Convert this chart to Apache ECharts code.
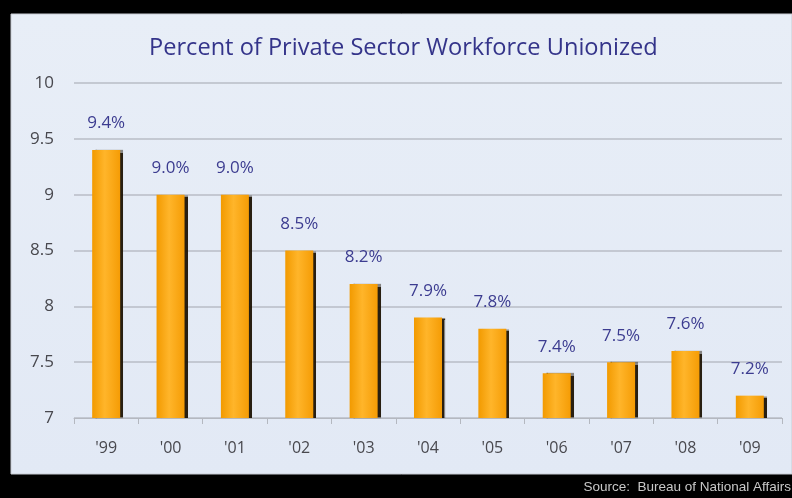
<!DOCTYPE html>
<html>
<head>
<meta charset="utf-8">
<script src="https://cdn.jsdelivr.net/npm/echarts@6/dist/echarts.min.js"></script>
<style>
html,body{margin:0;padding:0;background:#000;}
#c{width:792px;height:498px;}
</style>
</head>
<body>
<div id="c"></div>
<script>
var categories = ["'99","'00","'01","'02","'03","'04","'05","'06","'07","'08","'09"];
var values = [9.4, 9.0, 9.0, 8.5, 8.2, 7.9, 7.8, 7.4, 7.5, 7.6, 7.2];
var yTicks = {min: 7, max: 10, interval: 0.5};
var titleText = 'Percent of Private Sector Workforce Unionized';
var sourceText = 'Source:  Bureau of National Affairs';

var chart = echarts.init(document.getElementById('c'));
chart.setOption({
  backgroundColor: '#000',
  animation: false,
  graphic: [
    {type:'rect', z:-10, shape:{x:11, y:14, width:781, height:460},
     style:{fill:new echarts.graphic.LinearGradient(0,0,0,1,[{offset:0,color:'#e8eef7'},{offset:1,color:'#e2e9f5'}]), stroke:'#c8ccd4', lineWidth:1}},
    {type:'text', right:1, top:480, style:{text:sourceText, fill:'#c8c8c8', font:'13.5px "Liberation Sans", Arial, sans-serif'}}
  ],
  title: {
    text: titleText, left: 144, top: 31,
    textStyle: {color:'#34348a', fontSize:23.6, fontWeight:'normal', fontFamily:'"Open Sans", sans-serif'}
  },
  grid: {left:74, right:10, top:83, bottom:80, containLabel:false, outerBoundsMode:'none'},
  xAxis: {
    type:'category', data: categories,
    axisLine:{lineStyle:{color:'#b4b8c0', width:1}},
    axisTick:{show:true, alignWithLabel:false, length:6, lineStyle:{color:'#b4b8c0'}},
    axisLabel:{color:'#48484e', fontSize:16, margin:22, fontFamily:'"Open Sans", sans-serif'}
  },
  yAxis: {
    type:'value', min:yTicks.min, max:yTicks.max, interval:yTicks.interval,
    axisLine:{show:false}, axisTick:{show:false},
    splitLine:{lineStyle:{color:'#b8bcc6', width:1.5}},
    axisLabel:{color:'#48484e', fontSize:17, margin:20, fontFamily:'"Open Sans", sans-serif'}
  },
  series: [{
    type:'bar', data: values, barWidth: 28,
    itemStyle:{
      color: new echarts.graphic.LinearGradient(0,0,1,0,[
        {offset:0,color:'#f29a00'},{offset:0.45,color:'#ffb52a'},{offset:1,color:'#f59c05'}]),
      shadowColor:'rgba(30,20,5,0.95)', shadowOffsetX:3, shadowOffsetY:0, shadowBlur:1
    },
    label:{show:true, position:'top', distance:18, formatter:function(p){return p.value.toFixed(1)+'%';},
      color:'#3c3c90', fontSize:17, fontFamily:'"Open Sans", sans-serif'}
  }]
});
</script>
</body>
</html>
